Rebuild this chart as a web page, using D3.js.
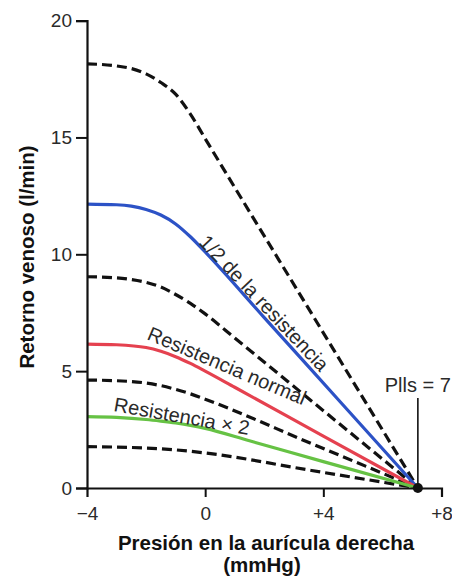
<!DOCTYPE html>
<html>
<head>
<meta charset="utf-8">
<script src="https://cdn.jsdelivr.net/npm/d3@7"></script>
<style>
  html, body { margin: 0; padding: 0; background: #fff; }
  svg { display: block; font-family: "Liberation Sans", Arial, Helvetica, sans-serif; }
</style>
</head>
<body>
<svg id="chart" width="452" height="576"></svg>
<script>
// ---- data ----
const xTicks = [-4, 0, 4, 8];
const xTickLabels = ["\u22124", "0", "+4", "+8"];
const yTicks = [0, 5, 10, 15, 20];
const plls = 7.2;          // convergence point as drawn on the picture
const pllsLabel = "Plls = 7";

const dashedTop = [[-4,18.15],[-3,18.06],[-2.5,17.95],[-2,17.72],[-1.5,17.35],[-1,16.85],[-0.5,16.0],[0,14.95],[3.6,7.47],[7.2,0]];
const blueHalf  = [[-4,12.15],[-3,12.12],[-2.5,12.06],[-2,11.92],[-1.5,11.68],[-1,11.3],[-0.5,10.75],[0,10.1],[2,7.29],[4.6,3.65],[7.2,0]];
const dashed2   = [[-4,9.04],[-3,8.99],[-2.5,8.92],[-2,8.8],[-1.5,8.6],[-1,8.28],[-0.5,7.9],[0,7.45],[1,6.42],[4,3.31],[7.2,0]];
const redNormal = [[-4,6.16],[-3,6.13],[-2,6.01],[-1.5,5.85],[-1,5.62],[-0.5,5.33],[0,5.0],[1,4.31],[4,2.22],[7.2,0]];
const dashed3   = [[-4,4.62],[-3,4.59],[-2,4.49],[-1.5,4.38],[-1,4.22],[-0.5,4.03],[0,3.8],[3.6,1.9],[7.2,0]];
const greenX2   = [[-4,3.05],[-3,3.02],[-2,2.93],[-1.5,2.86],[-1,2.78],[-0.5,2.68],[0,2.55],[1.5,2.02],[4,1.13],[7.2,0]];
const dashed4   = [[-4,1.77],[-3,1.75],[-2,1.71],[-1,1.63],[0,1.5],[3.6,0.75],[7.2,0]];

const curveLabels = [
  {text: "1/2 de la resistencia", at: [-0.24, 10.48], angle: 46.7},
  {text: "Resistencia normal",    at: [-2.0, 6.38],   angle: 23},
  {text: "Resistencia \u00d7 2",  at: [-3.12, 3.29],  angle: 10}
];

// ---- chart ----
const svg = d3.select("#chart");
const x = d3.scaleLinear().domain([-4, 8]).range([87, 441.5]);
const y = d3.scaleLinear().domain([0, 20]).range([488, 20.6]);

const line = d3.line().x(d => x(d[0])).y(d => y(d[1])).curve(d3.curveMonotoneX);

const dashedSeries = [dashedTop, dashed2, dashed3, dashed4];
const colorSeries = [
  {data: blueHalf,  color: "#2c52c6"},
  {data: redNormal, color: "#e5414f"},
  {data: greenX2,   color: "#66c244"}
];

svg.append("g").selectAll("path").data(dashedSeries).join("path")
  .attr("d", line).attr("fill", "none").attr("stroke", "#111")
  .attr("stroke-width", 3.2).attr("stroke-dasharray", "10,5");

svg.append("g").selectAll("path").data(colorSeries).join("path")
  .attr("d", d => line(d.data)).attr("fill", "none").attr("stroke", d => d.color)
  .attr("stroke-width", 3.2);

// axes
const yAxis = d3.axisLeft(y).tickValues(yTicks).tickSize(11).tickPadding(4);
const gy = svg.append("g").attr("transform", `translate(${x(-4)},0)`).call(yAxis);
const xAxis = d3.axisBottom(x).tickValues(xTicks).tickSize(9).tickPadding(10)
  .tickFormat((d, i) => xTickLabels[i]);
const gx = svg.append("g").attr("transform", `translate(0,${y(0)})`).call(xAxis);

[gx, gy].forEach(g => {
  g.select(".domain").attr("stroke", "#111").attr("stroke-width", 2.2);
  g.selectAll(".tick line").attr("stroke", "#111").attr("stroke-width", 2);
  g.selectAll(".tick text").attr("fill", "#2a2a2a").style("font-size", "19px")
    .style("font-family", "'Liberation Sans', Arial, sans-serif");
});
gx.select(".tick:first-of-type line").remove();

// Plls marker
svg.append("line").attr("x1", x(plls)).attr("x2", x(plls))
  .attr("y1", y(0)).attr("y2", y(3.85)).attr("stroke", "#111").attr("stroke-width", 1.6);
svg.append("circle").attr("cx", x(plls)).attr("cy", y(0)).attr("r", 5).attr("fill", "#111");
svg.append("text").attr("x", x(plls)).attr("y", 392).attr("text-anchor", "middle")
  .attr("fill", "#2a2a2a").style("font-size", "20px").text(pllsLabel);

// curve labels
svg.append("g").selectAll("text").data(curveLabels).join("text")
  .attr("transform", d => `translate(${x(d.at[0])},${y(d.at[1])}) rotate(${d.angle})`)
  .attr("fill", "#2a2a2a").style("font-size", "20px").text(d => d.text);

// axis titles
svg.append("text").attr("x", 266).attr("y", 550).attr("text-anchor", "middle")
  .attr("font-weight", "bold").attr("fill", "#111").style("font-size", "20.5px")
  .text("Presión en la aurícula derecha");
svg.append("text").attr("x", 262).attr("y", 572).attr("text-anchor", "middle")
  .attr("font-weight", "bold").attr("fill", "#111").style("font-size", "20.5px")
  .text("(mmHg)");
svg.append("text").attr("transform", "translate(34,257) rotate(-90)")
  .attr("text-anchor", "middle").attr("font-weight", "bold").attr("fill", "#111")
  .style("font-size", "20.5px").text("Retorno venoso (l/min)");
</script>
</body>
</html>
